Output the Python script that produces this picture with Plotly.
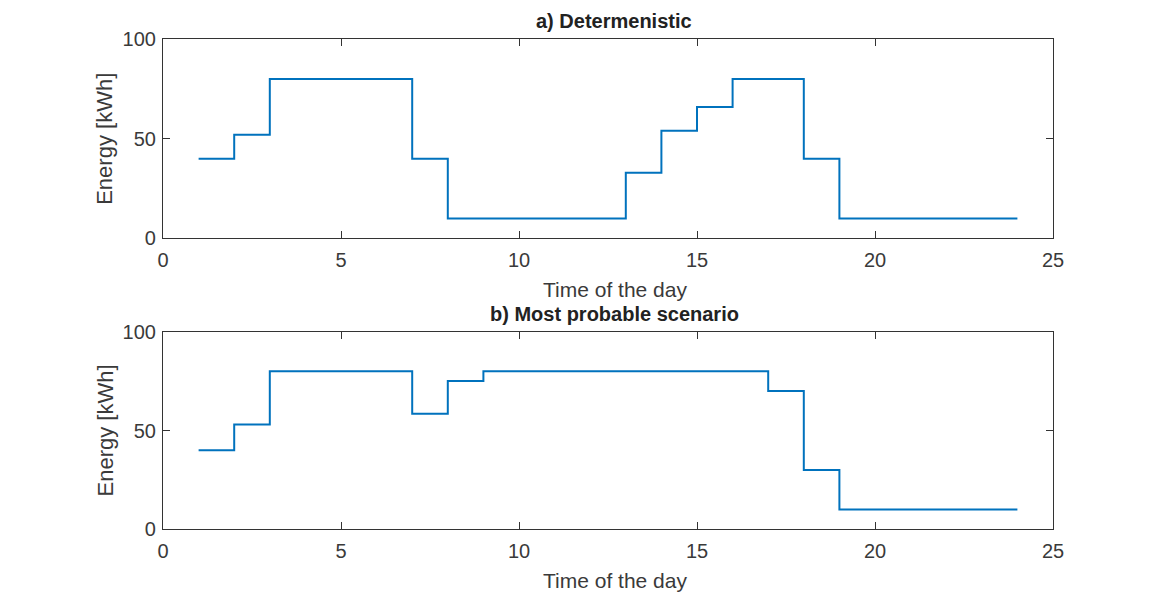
import plotly.graph_objects as go

# Hourly energy schedule (kWh) for hours 1..24
hours = list(range(1, 25))
deterministic = [40, 52, 80, 80, 80, 80, 40, 10, 10, 10, 10, 10,
                 33, 54, 66, 80, 80, 40, 10, 10, 10, 10, 10, 10]
most_probable = [40, 53, 80, 80, 80, 80, 58.5, 75, 80, 80, 80, 80,
                 80, 80, 80, 80, 70, 30, 10, 10, 10, 10, 10, 10]

x_ticks = [0, 5, 10, 15, 20, 25]
y_ticks = [0, 50, 100]
titles = ["a) Determenistic", "b) Most probable scenario"]
x_title = "Time of the day"
y_title = "Energy [kWh]"

W, H = 1159, 597
L, R = 163, 1053
panels = [(39.3, 238.3), (331.7, 529.3)]  # top/bottom pixel edges of each axes box

LINE = "#0072BD"
AX = "#333333"
TXT = "#3a3a3a"
FONT = "Liberation Sans, Arial, Helvetica, sans-serif"

fig = go.Figure()

for i, (ys, (ptop, pbot)) in enumerate(zip([deterministic, most_probable], panels)):
    n = "" if i == 0 else str(i + 1)
    fig.add_trace(go.Scatter(
        x=hours, y=ys, mode="lines", line=dict(color=LINE, width=2, shape="hv"),
        xaxis="x" + n, yaxis="y" + n, showlegend=False, hoverinfo="x+y"))
    dom = [1 - pbot / H, 1 - ptop / H]
    axis_common = dict(showline=True, linecolor=AX, linewidth=1.2, mirror="ticks",
                       ticks="inside", ticklen=7, tickwidth=1.2, tickcolor=AX,
                       showgrid=False, zeroline=False, automargin=False,
                       tickfont=dict(family=FONT, size=20, color=TXT))
    fig.update_layout({
        "xaxis" + n: dict(domain=[L / W, R / W], range=[0, 25], tickvals=x_ticks,
                          anchor="y" + n, ticklabelstandoff=4, **axis_common),
        "yaxis" + n: dict(domain=dom, range=[0, 100], tickvals=y_ticks,
                          anchor="x" + n, ticklabelstandoff=2, **axis_common),
    })
    # panel title
    fig.add_annotation(text="<b>%s</b>" % titles[i], xref="paper", yref="paper",
                       x=614 / W, y=1 - (ptop - 18) / H, showarrow=False,
                       font=dict(family=FONT, size=20, color="#222222"),
                       xanchor="center", yanchor="middle", borderpad=0)
    # x axis title
    fig.add_annotation(text=x_title, xref="paper", yref="paper",
                       x=615 / W, y=1 - (pbot + 51) / H, showarrow=False,
                       font=dict(family=FONT, size=21, color=TXT),
                       xanchor="center", yanchor="middle", borderpad=0)
    # y axis title
    fig.add_annotation(text=y_title, xref="paper", yref="paper",
                       x=105 / W, y=1 - ((ptop + pbot) / 2) / H, showarrow=False,
                       textangle=-90,
                       font=dict(family=FONT, size=22, color=TXT),
                       xanchor="center", yanchor="middle")

fig.update_layout(width=W, height=H, margin=dict(l=0, r=0, t=0, b=0, autoexpand=False),
                  plot_bgcolor="white", paper_bgcolor="white")

fig.write_html("out.html")
